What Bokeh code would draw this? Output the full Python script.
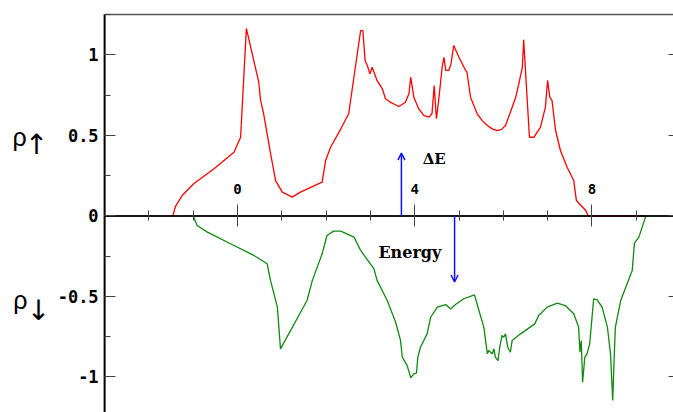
from bokeh.plotting import figure
from bokeh.models import (Range1d, LinearAxis, SingleIntervalTicker, FixedTicker,
                          Label, Arrow, OpenHead)
from bokeh.embed import file_html
from bokeh.resources import INLINE

# ---- data ----
energy_up = [-1.46, -1.40, -1.25, -0.99, -0.53, -0.08, 0.07, 0.20, 0.48, 0.52, 0.59,
             0.745, 0.86, 1.01, 1.235, 1.42, 1.91, 1.99, 2.10, 2.33, 2.51, 2.66, 2.78,
             2.83, 2.88, 2.93, 2.99, 3.04, 3.15, 3.27, 3.34, 3.45, 3.64, 3.79, 3.87,
             3.91, 3.98, 4.09, 4.21, 4.32, 4.39, 4.44, 4.49, 4.54, 4.62, 4.66, 4.70,
             4.77, 4.82, 4.88, 5.00, 5.15, 5.18, 5.26, 5.41, 5.52, 5.64, 5.75, 5.86,
             5.96, 6.05, 6.20, 6.28, 6.35, 6.43, 6.46, 6.59, 6.69, 6.84, 6.95, 7.00,
             7.05, 7.10, 7.18, 7.29, 7.44, 7.59, 7.65, 7.86, 7.92, 9.20]
dos_up = [0.0, 0.06, 0.127, 0.20, 0.293, 0.396, 0.489, 1.165, 0.831, 0.72, 0.635,
          0.39, 0.22, 0.148, 0.117, 0.148, 0.21, 0.345, 0.427, 0.54, 0.635, 0.924, 1.152,
          1.152, 0.966, 0.935, 0.883, 0.924, 0.842, 0.79, 0.728, 0.707, 0.68, 0.707, 0.759,
          0.862, 0.738, 0.666, 0.624, 0.614, 0.635, 0.81, 0.604, 0.717, 0.924, 0.986, 0.904,
          0.904, 0.945, 1.059, 0.986, 0.904, 0.893, 0.738, 0.635, 0.594, 0.562, 0.541, 0.531,
          0.538, 0.562, 0.676, 0.738, 0.821, 0.924, 1.094, 0.489, 0.489, 0.552, 0.676, 0.842,
          0.738, 0.717, 0.531, 0.407, 0.303, 0.22, 0.096, 0.034, 0.0, 0.0]

energy_down = [-1.00, -0.91, -0.68, -0.08, 0.37, 0.67, 0.745, 0.90, 0.97, 1.57, 1.69,
               1.91, 2.02, 2.17, 2.33, 2.63, 2.78, 3.08, 3.15, 3.38, 3.57, 3.68, 3.72,
               3.83, 3.91, 3.98, 4.04, 4.07, 4.13, 4.28, 4.36, 4.51, 4.70, 4.81, 4.92,
               5.11, 5.35, 5.45, 5.56, 5.64, 5.67, 5.75, 5.79, 5.82, 5.88, 5.92, 5.97,
               6.01, 6.05, 6.10, 6.16, 6.20, 6.39, 6.71, 6.80, 6.99, 7.22, 7.40, 7.59,
               7.70, 7.73, 7.76, 7.79, 7.84, 7.89, 7.95, 8.04, 8.12, 8.23, 8.35, 8.42,
               8.47, 8.50, 8.53, 8.65, 8.91, 8.96, 9.06, 9.21, 9.24]
dos_down = [0.0, -0.059, -0.10, -0.183, -0.245, -0.297, -0.40, -0.566, -0.825, -0.525, -0.40,
            -0.235, -0.121, -0.094, -0.094, -0.131, -0.214, -0.328, -0.40, -0.525, -0.66, -0.773, -0.877,
            -0.929, -1.005, -0.98, -0.976, -0.877, -0.815, -0.732, -0.629, -0.566, -0.55, -0.577, -0.55,
            -0.514, -0.49, -0.587, -0.69, -0.856, -0.835, -0.856, -0.825, -0.877, -0.898, -0.815, -0.742,
            -0.753, -0.732, -0.815, -0.846, -0.773, -0.732, -0.67, -0.618, -0.566, -0.541, -0.556, -0.607,
            -0.69, -0.846, -0.773, -1.032, -0.877, -0.856, -0.794, -0.514, -0.521, -0.566, -0.69, -0.856,
            -1.146, -0.898, -0.69, -0.525, -0.339, -0.169, -0.131, -0.007, 0.0]

y_ticks = [-1, -0.5, 0, 0.5, 1]
y_tick_labels = ["-1", "-0.5", "0", "0.5", "1"]
x_ticks = [0, 4, 8]
x_minor_ticks = [-2, -1, 1, 2, 3, 5, 6, 7, 9]
x_tick_labels = ["0", "4", "8"]

# ---- figure geometry ----
X_AXIS_LEFT = -3.0      # where the vertical axis stands
Y_TOP = 1.2516          # top frame line
X0, X1 = -5.35, 9.842
Y0, Y1 = -1.2205, 1.3385

p = figure(width=673, height=412, x_range=Range1d(X0, X1), y_range=Range1d(Y0, Y1),
           output_backend="svg", toolbar_location=None,
           x_axis_location=None, y_axis_location=None,
           min_border_left=0, min_border_right=0, min_border_top=0, min_border_bottom=0)
p.grid.visible = False
p.outline_line_color = None
p.background_fill_color = "white"
p.border_fill_color = "white"

# curves
p.line(energy_up, dos_up, line_color="#ff0000", line_width=1.3)
p.line(energy_down, dos_down, line_color="#108a10", line_width=1.3)

# frame lines
p.segment(x0=[X_AXIS_LEFT], y0=[Y_TOP], x1=[X1], y1=[Y_TOP], line_color="#555555", line_width=1.5)
p.segment(x0=[X_AXIS_LEFT], y0=[Y0], x1=[X_AXIS_LEFT], y1=[Y_TOP], line_color="black", line_width=2)
p.segment(x0=[X_AXIS_LEFT], y0=[0], x1=[X1], y1=[0], line_color="black", line_width=2, line_alpha=0.9)

# left axis (ticks and labels)
yaxis = LinearAxis(fixed_location=X_AXIS_LEFT,
                   ticker=SingleIntervalTicker(interval=0.5, num_minor_ticks=2),
                   major_label_overrides=dict(zip(y_ticks, y_tick_labels)),
                   major_tick_in=11, major_tick_out=0, minor_tick_in=6, minor_tick_out=0,
                   major_tick_line_color="#444444", minor_tick_line_color="#444444",
                   axis_line_color=None,
                   major_label_standoff=6,
                   major_label_text_font="DejaVu Sans Mono",
                   major_label_text_font_style="bold",
                   major_label_text_font_size="17px",
                   major_label_text_color="black")
p.add_layout(yaxis, "left")

# right ticks (frame edge)
raxis = LinearAxis(fixed_location=X1, ticker=SingleIntervalTicker(interval=0.5, num_minor_ticks=2),
                   major_tick_in=5, major_tick_out=0, minor_tick_in=0, minor_tick_out=0,
                   major_tick_line_color="#444444", axis_line_color=None,
                   major_label_text_alpha=0)
p.add_layout(raxis, "right")

# energy axis through zero
xaxis = LinearAxis(fixed_location=0,
                   ticker=FixedTicker(ticks=x_ticks, minor_ticks=x_minor_ticks),
                   major_label_overrides=dict(zip(x_ticks, x_tick_labels)),
                   major_tick_in=11, major_tick_out=11, minor_tick_in=5, minor_tick_out=5,
                   major_tick_line_color="#444444", minor_tick_line_color="#444444",
                   axis_line_color=None,
                   major_label_standoff=11,
                   major_label_text_font="DejaVu Sans Mono",
                   major_label_text_font_style="bold",
                   major_label_text_font_size="14px",
                   major_label_text_color="black")
p.add_layout(xaxis, "above")

# arrows
p.add_layout(Arrow(x_start=3.70, y_start=0.0, x_end=3.70, y_end=0.39,
                   line_color="#1010ff", line_width=1.5,
                   end=OpenHead(size=7, line_color="#1010ff", line_width=1.5)))
p.add_layout(Arrow(x_start=4.90, y_start=0.0, x_end=4.90, y_end=-0.41,
                   line_color="#1010ff", line_width=1.5,
                   end=OpenHead(size=7, line_color="#1010ff", line_width=1.5)))

# texts
p.add_layout(Label(x=4.18, y=0.357, text="ΔE", text_font="DejaVu Serif",
                   text_font_style="bold", text_font_size="15px", text_baseline="alphabetic",
                   text_color="black"))
p.add_layout(Label(x=3.18, y=-0.227, text="Energy", text_font="DejaVu Serif",
                   text_font_style="bold", text_font_size="16px", text_baseline="alphabetic",
                   text_color="black"))

p.add_layout(Label(x=-5.08, y=0.488, text="ρ", text_font="Liberation Sans",
                   text_font_size="25px", text_baseline="alphabetic", text_color="black"))
p.add_layout(Label(x=-4.80, y=0.445, text="↑", text_font="DejaVu Sans",
                   text_font_size="28px", text_baseline="alphabetic", text_color="black"))
p.add_layout(Label(x=-5.06, y=-0.519, text="ρ", text_font="Liberation Sans",
                   text_font_size="25px", text_baseline="alphabetic", text_color="black"))
p.add_layout(Label(x=-4.76, y=-0.590, text="↓", text_font="DejaVu Sans",
                   text_font_size="28px", text_baseline="alphabetic", text_color="black"))

open("out.html", "w").write(file_html(p, INLINE))
